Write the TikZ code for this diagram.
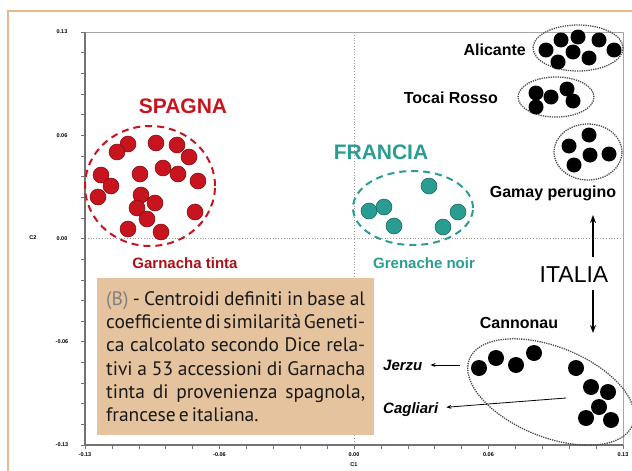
\documentclass[tikz,border=0pt]{standalone}
\usepackage{fontspec}
\setmainfont{Liberation Sans}
\newfontfamily\boxfont[WordSpace=0.6]{PT Sans}
\usetikzlibrary{arrows.meta}
\definecolor{frameorange}{HTML}{E8B98A}
\definecolor{boxtan}{HTML}{E4C39E}
\definecolor{spagnared}{HTML}{C8141E}
\definecolor{franciateal}{HTML}{2A9D92}
\tikzset{
reddot/.style={fill=spagnared, draw=spagnared!60!black, line width=0.5pt},
tealdot/.style={fill=franciateal, draw=franciateal!60!black, line width=0.5pt},
blackdot/.style={fill=black},
blackring/.style={draw=black!70, densely dotted, line width=1.3pt},
country/.style={font=\fontsize{21}{21}\selectfont\bfseries, inner sep=0pt},
variety/.style={font=\fontsize{16}{16}\selectfont\bfseries, inner sep=0pt},
ticklab/.style={font=\fontsize{5.5}{5.5}\selectfont\bfseries, inner sep=0pt},
pointer/.style={-{Stealth[length=5pt,width=4pt]}, line width=0.8pt, shorten >=8pt},
bigarrow/.style={-{Stealth[length=8pt,width=6pt]}, line width=1.2pt}
}

\begin{document}
\begin{tikzpicture}[x=1pt,y=-1pt]
\useasboundingbox (0,0) rectangle (632,471);
% frame
\draw [frameorange, line width=2pt] (8,471) -- (8,11) -- (632,11);

% plot area
\draw [black!35, line width=0.8pt] (85,32) -- (623,32) -- (623,445);
\draw [black!40, dotted, line width=0.8pt] (85,238.5) -- (623,238.5);
\draw [black!40, dotted, line width=0.8pt] (354,32) -- (354,445);
\draw [black!55, line width=2pt] (85,32) -- (85,445) -- (623,445);

%ticks
\foreach \i in {0,...,20}
     \draw [black!55, line width=0.6pt] (85,32+\i*20.65) -- (81,32+\i*20.65);
\foreach \i in {0,...,20}
     \draw [black!55, line width=0.6pt] (85+\i*26.9,445) -- (85+\i*26.9,449);

%labels
\foreach \lab [count=\i from 0] in {0.13,0.06,0.00,-0.06,-0.13}
     \node [ticklab] (ylab\i) at (62,32+\i*103.25) {\lab};
\foreach \lab [count=\i from 0] in {-0.13,-0.06,0.00,0.06,0.13}
     \node [ticklab] (xlab\i) at (85+\i*134.5,455) {\lab};
\node [ticklab] (cy) at (33,238) {C2};
\node [ticklab] (cx) at (354,465) {C1};

% caption
\node [fill=boxtan, anchor=north west, minimum width=277pt, minimum height=157pt,
       text width=259pt, inner xsep=9pt, inner ysep=0pt, align=justify,
       font=\boxfont\fontsize{19.5}{23.2}\selectfont, text=black!90] (caption) at (97,278)
  {\textcolor{black!50}{(B)} - Centroidi definiti in base al\linebreak
   coefficiente di similarità Geneti-\linebreak
   ca calcolato secondo Dice rela-\linebreak
   tivi a 53 accessioni di Garnacha\linebreak
   tinta di provenienza spagnola,\linebreak
   francese e italiana.\hspace*{\fill}};

% Spagna
\draw [spagnared, dashed, dash pattern=on 7pt off 5pt, line width=2pt] (150,186) ellipse [x radius=65pt, y radius=60pt];
\foreach \x/\y in {128/144,117/152,156/143,177/145,189/157,101/175,111/186,98/197,140/174,
                   163/168,178/174,198/181,141/195,137/208,155/203,147/219,195/212,128/229,161/232}
     \draw [reddot] (\x,\y) circle (8pt);
\node [country, text=spagnared] (spagna) at (183,106) {SPAGNA};
\node [variety, font=\fontsize{15}{15}\selectfont\bfseries, text=spagnared!85!black] (garnacha) at (185,263) {Garnacha tinta};

% Francia
\draw [franciateal, dashed, dash pattern=on 7pt off 5pt, line width=2pt] (413,208) ellipse [x radius=60pt, y radius=37pt];
\foreach \x/\y in {429/186,369/211,384/207,394/226,458/212,443/227}
     \draw [tealdot] (\x,\y) circle (8pt);
\node [country, text=franciateal] (francia) at (381,152) {FRANCIA};
\node [variety, font=\fontsize{15}{15}\selectfont\bfseries, text=franciateal] (grenache) at (424,263) {Grenache noir};

% Italia
\draw [blackring] (578,48) ellipse [x radius=45pt, y radius=23pt];
\foreach \x/\y in {546/50,558/62,561/40,578/37,573/52,589/58,599/40,614/50}
     \fill [blackdot] (\x,\y) circle (7.5pt);
\node [variety, anchor=east] (alicante) at (526,50) {Alicante};

\draw [blackring] (556,97) ellipse [x radius=38pt, y radius=20pt];
\foreach \x/\y in {536/93,536/107,551/97,567/89,573/101}
     \fill [blackdot] (\x,\y) circle (7.5pt);
\node [variety, anchor=east] (tocai) at (498,98) {Tocai Rosso};

\draw [blackring] (588,152) ellipse [x radius=34pt, y radius=28pt];
\foreach \x/\y in {589/135,569/146,590/155,609/154,574/165}
     \fill [blackdot] (\x,\y) circle (7.5pt);
\node [variety] (gamay) at (553,193) {Gamay perugino};

\node [font=\fontsize{23}{23}\selectfont, inner sep=0pt] (italia) at (574,275) {ITALIA};
\coordinate (itup) at (593,257);
\coordinate (ittop) at (593,215);
\coordinate (itdown) at (593,290);
\coordinate (itbot) at (593,333);
\draw [bigarrow] (itup) -- (ittop);
\draw [bigarrow] (itdown) -- (itbot);

\node [variety] (cannonau) at (519,323) {Cannonau};
\draw [blackring] (551,392) ellipse [x radius=88pt, y radius=45pt, rotate=-22];
\foreach \x/\y in {479/368,496/358,516/365,534/353,576/368,591/387,608/392,599/407,586/418,611/420}
     \fill [blackdot] (\x,\y) circle (8pt);

\node [variety, font=\fontsize{15}{15}\selectfont\bfseries\itshape, anchor=west] (jerzu) at (383,365) {Jerzu};
\node [variety, font=\fontsize{15}{15}\selectfont\bfseries\itshape, anchor=west] (cagliari) at (383,410) {Cagliari};
\coordinate (jzfrom) at (460,365);
\coordinate (cgfrom) at (566,398);
\draw [pointer] (jzfrom) -- (jerzu);
\draw [pointer] (cgfrom) -- (cagliari);
\end{tikzpicture}
\end{document}
